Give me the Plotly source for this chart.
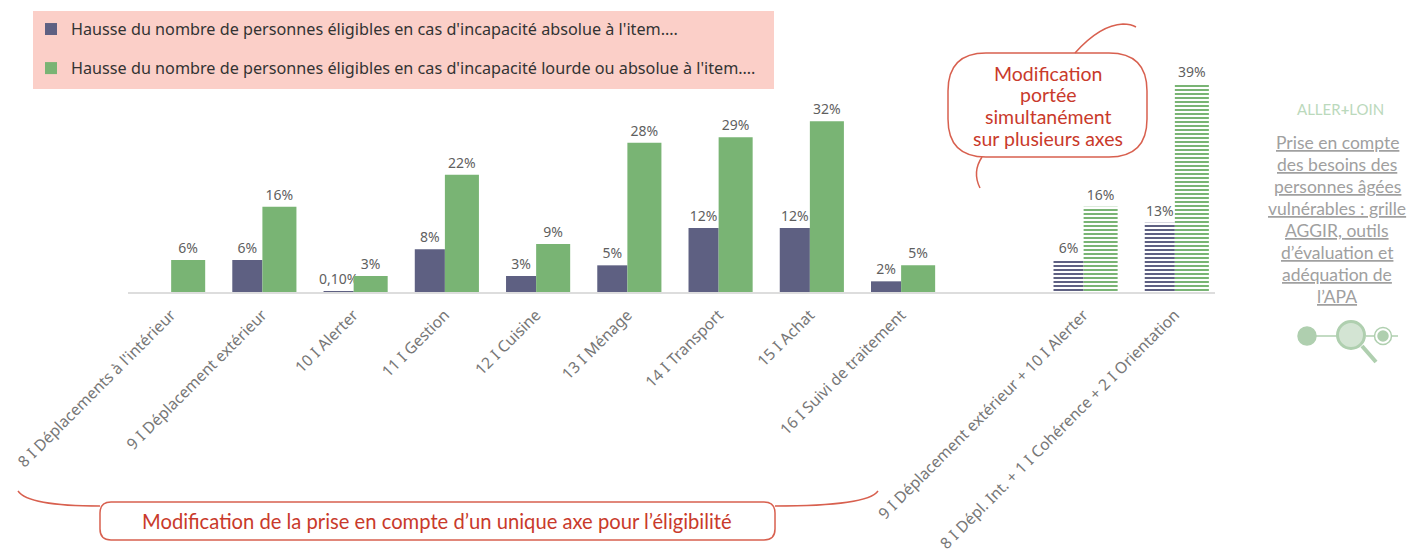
import plotly.graph_objects as go

categories = ["8 I Déplacements à l'intérieur", "9 I Déplacement extérieur", "10 I Alerter", "11 I Gestion",
              "12 I Cuisine", "13 I Ménage", "14 I Transport", "15 I Achat", "16 I Suivi de traitement", " ",
              "9 I Déplacement extérieur + 10 I Alerter", "8 I Dépl. Int. + 1 I Cohérence + 2 I Orientation"]
absolue = [None, 6, 0.1, 8, 3, 5, 12, 12, 2, None, 6, 13]
lourde = [6, 16, 3, 22, 9, 28, 29, 32, 5, None, 16, 39]
absolue_labels = ["", "6%", "0,10%", "8%", "3%", "5%", "12%", "12%", "2%", "", "6%", "13%"]
lourde_labels = ["6%", "16%", "3%", "22%", "9%", "28%", "29%", "32%", "5%", "", "16%", "39%"]
hatch = ["", "", "", "", "", "", "", "", "", "", "-", "-"]
name_a = "Hausse du nombre de personnes éligibles en cas d'incapacité absolue à l'item…."
name_b = "Hausse du nombre de personnes éligibles en cas d'incapacité lourde ou absolue à l'item…."
side_lines = ["Prise en compte", "des besoins des", "personnes âgées", "vulnérables : grille",
              "AGGIR, outils", "d’évaluation et", "adéquation de", "l’APA"]
bubble_lines = ["Modification", "portée", "simultanément", "sur plusieurs axes"]

PAGE_PAD = 8  # default body margin of the written page
W, H = 1417 - 2 * PAGE_PAD, 557 - PAGE_PAD
L, R, T, B = 128, 1215, 52, 292
PURPLE, GREEN, RED, EDGE, PALE = "#5E6082", "#79B474", "#C93A2B", "#D8604F", "#AFCFAF"
BODY = "Lato"
LABEL = "Noto Sans"

def px(x): return (x - L) / (R - L)
def py(y): return (B - y) / (B - T)
def P(x, y): return f"{px(x):.5f},{py(y):.5f}"

def round_box(x0, y0, x1, y1, r):
    return (f"M{P(x0+r,y0)} L{P(x1-r,y0)} Q{P(x1,y0)} {P(x1,y0+r)} L{P(x1,y1-r)} Q{P(x1,y1)} {P(x1-r,y1)} "
            f"L{P(x0+r,y1)} Q{P(x0,y1)} {P(x0,y1-r)} L{P(x0,y0+r)} Q{P(x0,y0)} {P(x0+r,y0)} Z")

def curve_shape(path, color=EDGE, width=1.5):
    return dict(type="path", path=path, xref="paper", yref="paper", line=dict(color=color, width=width), layer="above")

def circle(cx, cy, r, fill=None, line=PALE, width=1.5):
    return dict(type="circle", xref="paper", yref="paper", x0=px(cx-r), x1=px(cx+r), y0=py(cy+r), y1=py(cy-r),
                fillcolor=fill or "rgba(0,0,0,0)", line=dict(color=line, width=width), layer="above")

def seg(x0, y0, x1, y1, color=PALE, width=1.5):
    return dict(type="line", xref="paper", yref="paper", x0=px(x0), x1=px(x1), y0=py(y0), y1=py(y1),
                line=dict(color=color, width=width), layer="above")

def note(x, y, text, size, color, family=BODY):
    return dict(xref="paper", yref="paper", x=px(x), y=py(y), text=text, showarrow=False, xanchor="center",
                yanchor="middle", font=dict(size=size, color=color, family=family))

fig = go.Figure()
fig.add_bar(x=categories, y=absolue, name=name_a, width=0.33, offset=-0.33, text=absolue_labels,
            textposition="outside", cliponaxis=False, legendgroup="a", constraintext="none",
            textfont=dict(size=14, color="#5F5F5F", family=LABEL),
            marker=dict(color=PURPLE, line_width=0,
                        pattern=dict(shape=hatch, fillmode="replace", size=4, solidity=0.5,
                                     fgcolor=PURPLE, bgcolor="white")))
fig.add_bar(x=categories, y=lourde, name=name_b, width=0.373, offset=0, text=lourde_labels,
            textposition="outside", cliponaxis=False, legendgroup="b", constraintext="none",
            textfont=dict(size=14, color="#5F5F5F", family=LABEL),
            marker=dict(color=GREEN, line_width=0,
                        pattern=dict(shape=hatch, fillmode="replace", size=4, solidity=0.5,
                                     fgcolor=GREEN, bgcolor="white")))

shapes = [
    dict(type="rect", xref="paper", yref="paper", x0=px(33), x1=px(774), y0=py(89), y1=py(11),
         fillcolor="#FBCFC8", line_width=0, layer="below"),
    curve_shape(round_box(948, 53, 1147, 157, 38)),
    curve_shape(f"M{P(1075,53)} Q{P(1100,25)} {P(1123,24)} Q{P(1131,24)} {P(1136,27)}"),
    curve_shape(f"M{P(982,157)} Q{P(972,172)} {P(980,188)}"),
    curve_shape(round_box(100, 502, 775, 540, 11)),
    curve_shape(f"M{P(18,491)} Q{P(28,506)} {P(100,506)}"),
    curve_shape(f"M{P(775,506)} Q{P(868,506)} {P(878,491)}"),
    seg(1316, 336, 1338, 336), seg(1366, 336, 1374, 336), seg(1392, 336, 1398, 336),
    seg(1362, 346, 1376, 362, width=4),
    circle(1307, 336, 9, fill=PALE),
    circle(1351, 335, 13.5, fill="#D3E4D3", width=3),
    circle(1383, 336, 8.5, fill="white"),
    circle(1383, 336, 5, fill=PALE),
]

annotations = [note(437, 521, "Modification de la prise en compte d’un unique axe pour l’éligibilité", 20.2, RED)]
annotations += [note(1048, 73 + i * 21.7, t, 19.5, RED) for i, t in enumerate(bubble_lines)]
annotations += [note(1337, 142 + i * 22.1, f"<u>{t}</u>", 17.5, "#A0A0A0") for i, t in enumerate(side_lines)]
annotations += [note(1340, 109, "ALLER<b>+</b>LOIN", 15, "#BBD9BC")]

fig.update_layout(
    width=W, height=H, autosize=False,
    margin=dict(l=L - PAGE_PAD, r=W + PAGE_PAD - R, t=T - PAGE_PAD, b=H + PAGE_PAD - B, autoexpand=False),
    paper_bgcolor="white", plot_bgcolor="white", barmode="overlay", shapes=shapes, annotations=annotations,
    font=dict(family=BODY),
    showlegend=True,
    legend=dict(x=px(31), y=py(12), xanchor="left", yanchor="top", bgcolor="rgba(0,0,0,0)", tracegroupgap=15,
                font=dict(size=16.2, color="#333333", family="Noto Sans"), itemclick=False),
    xaxis=dict(type="category", range=[-0.473, 11.44], tickangle=-45, showgrid=False, ticks="", showline=True,
               linecolor="#DDDDDD", linewidth=1.5, tickfont=dict(size=15.6, color="#777777", family=LABEL),
               ticklabelstandoff=6, automargin=False, categoryorder="array", categoryarray=categories),
    yaxis=dict(range=[0, 45], visible=False, showgrid=False, zeroline=False, automargin=False),
)
fig.write_html("out.html")
